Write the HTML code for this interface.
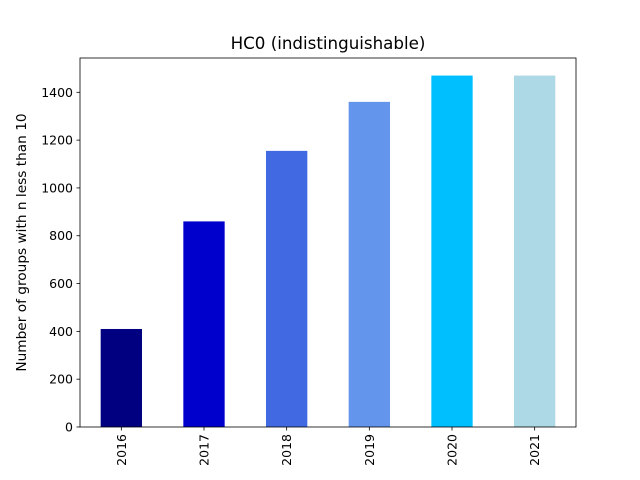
<!DOCTYPE html>
<html><head><meta charset="utf-8"><style>body{margin:0;background:#fff}svg{display:block;font-family:"DejaVu Sans","Liberation Sans",sans-serif}</style></head>
<body>
<svg id="c" width="640" height="480"></svg>
<script>
const categories = ["2016","2017","2018","2019","2020","2021"];
const values = [410, 860, 1155, 1360, 1470, 1470];
const colors = ["#000080","#0000cd","#4169e1","#6495ed","#00bfff","#add8e6"];
const yTicks = [0,200,400,600,800,1000,1200,1400];

const NS="http://www.w3.org/2000/svg";
const svg=document.getElementById('c');
const L=80,R=576,T=58,B=427;
const ymax=Math.max(...values)*1.05;
const y=v=>B-(v/ymax)*(B-T);
const step=(R-L)/categories.length;
const x=i=>L+step*(i+0.5);
function mk(t,a){const e=document.createElementNS(NS,t);for(const k in a)e.setAttribute(k,a[k]);svg.appendChild(e);return e;}
categories.forEach((c,i)=>{
  const r=mk('rect',{x:x(i)-step*0.25,y:y(values[i]),width:step*0.5,height:B-y(values[i]),fill:colors[i]});
  
  
  mk('line',{x1:x(i),x2:x(i),y1:B,y2:B+3.5,stroke:'#000','stroke-width':0.8});
  const t=mk('text',{x:0,y:0,'font-size':12.5,'text-anchor':'end',transform:`translate(${x(i)+4.5},${B+7}) rotate(-90)`});
  t.textContent=c;
  
  
});
yTicks.forEach(v=>{
  mk('line',{x1:L-3.5,x2:L,y1:y(v),y2:y(v),stroke:'#000','stroke-width':0.8});
  const t=mk('text',{x:L-7,y:y(v)+4.5,'font-size':12.5,'text-anchor':'end'});
  t.textContent=v;
  
  
});
const f=mk('rect',{x:L,y:T,width:R-L,height:B-T,fill:'none',stroke:'#000','stroke-width':0.8});


const ti=mk('text',{x:(L+R)/2,y:T-9,'font-size':16.7,'text-anchor':'middle'});
ti.textContent='HC0 (indistinguishable)';


const yl=mk('text',{x:0,y:0,'font-size':13.7,'text-anchor':'middle',transform:`translate(26,${(T+B)/2}) rotate(-90)`});
yl.textContent='Number of groups with n less than 10';


</script>
</body></html>
